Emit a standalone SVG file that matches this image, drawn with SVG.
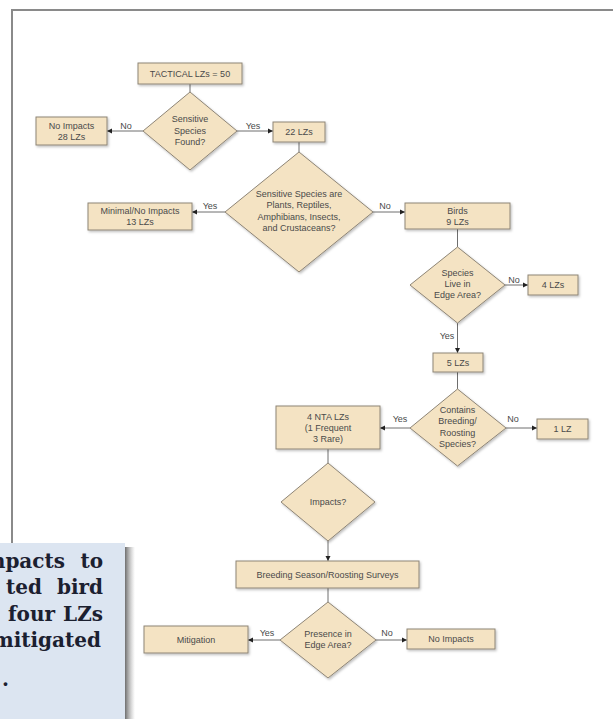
<svg xmlns="http://www.w3.org/2000/svg" width="613" height="719" viewBox="0 0 613 719">
<defs>
<style>
.box{fill:#f4e3c3;stroke:#8e8576;stroke-width:1;filter:url(#sh)}
.dia{fill:#f4e3c3;stroke:#8e8576;stroke-width:1;filter:url(#sh)}
.t{font-family:"Liberation Sans",Arial,sans-serif;font-size:9px;fill:#4a4a4a;text-anchor:middle;dominant-baseline:central}
.lbl{font-family:"Liberation Sans",Arial,sans-serif;font-size:9px;fill:#4a4a4a;text-anchor:middle;dominant-baseline:central}
.c{stroke:#6e6e6e;stroke-width:1;fill:none}
.a{marker-end:url(#ah)}
.call{font-family:"DejaVu Serif","Liberation Serif",serif;font-weight:bold;font-size:20px;fill:#1b2030}
</style>
<marker id="ah" markerWidth="6" markerHeight="6" refX="5" refY="3" orient="auto" markerUnits="userSpaceOnUse">
<path d="M0,0.5 L5,3 L0,5.5 Z" fill="#222"/>
</marker>
<filter id="sh" x="-10%" y="-10%" width="130%" height="140%">
<feDropShadow dx="1.2" dy="1.5" stdDeviation="0.8" flood-color="#000" flood-opacity="0.25"/>
</filter>
<linearGradient id="sg" x1="0" y1="0" x2="1" y2="0">
<stop offset="0" stop-color="#555" stop-opacity="0.85"/>
<stop offset="1" stop-color="#999" stop-opacity="0"/>
</linearGradient>
</defs>
<rect x="0" y="0" width="613" height="719" fill="#fff"/>
<g id="frame">
<path d="M12,545 L12,10 L613,10" fill="none" stroke="#8a8a8a" stroke-width="2"/>
</g>
<g id="connectors">
<line class="c" x1="190" y1="84" x2="190" y2="92"/>
<line class="c a" x1="143" y1="131" x2="107" y2="131"/>
<line class="c a" x1="237" y1="131" x2="273" y2="131"/>
<line class="c" x1="299" y1="142" x2="299" y2="152"/>
<line class="c a" x1="225" y1="212" x2="192" y2="212"/>
<line class="c a" x1="373" y1="212" x2="405" y2="212"/>
<line class="c" x1="457.5" y1="229" x2="457.5" y2="247"/>
<line class="c a" x1="505" y1="285" x2="528" y2="285"/>
<line class="c a" x1="457.5" y1="323" x2="457.5" y2="353"/>
<line class="c" x1="457.5" y1="372" x2="457.5" y2="389"/>
<line class="c a" x1="506" y1="428" x2="537" y2="428"/>
<line class="c a" x1="410" y1="428" x2="380" y2="428"/>
<line class="c" x1="328" y1="449" x2="328" y2="463"/>
<line class="c a" x1="328" y1="541" x2="328" y2="561"/>
<line class="c" x1="328" y1="588" x2="328" y2="602"/>
<line class="c a" x1="376" y1="640" x2="407" y2="640"/>
<line class="c a" x1="280" y1="640" x2="248" y2="640"/>
<text class="lbl" x="126" y="126">No</text>
<text class="lbl" x="253" y="126">Yes</text>
<text class="lbl" x="210" y="206">Yes</text>
<text class="lbl" x="385" y="206">No</text>
<text class="lbl" x="514" y="280">No</text>
<text class="lbl" x="447" y="336">Yes</text>
<text class="lbl" x="513" y="419">No</text>
<text class="lbl" x="400" y="419">Yes</text>
<text class="lbl" x="267" y="633">Yes</text>
<text class="lbl" x="387" y="633">No</text>
</g>
<g id="n-tactical"><rect class="box" x="138" y="63" width="104" height="21"/><text class="t" x="190" y="74">TACTICAL LZs = 50</text></g>
<g id="n-found"><polygon class="dia" points="190,92 237,131 190,170 143,131"/><text class="t" x="190" y="119">Sensitive</text><text class="t" x="190" y="130.5">Species</text><text class="t" x="190" y="142">Found?</text></g>
<g id="n-noimpacts28"><rect class="box" x="36" y="117" width="71" height="28"/><text class="t" x="71.5" y="125.5">No Impacts</text><text class="t" x="71.5" y="136.5">28 LZs</text></g>
<g id="n-22"><rect class="box" x="273" y="122" width="52" height="20"/><text class="t" x="299" y="132">22 LZs</text></g>
<g id="n-plants"><polygon class="dia" points="299,152 373,212 299,272 225,212"/><text class="t" x="299" y="194">Sensitive Species are</text><text class="t" x="299" y="205.3">Plants, Reptiles,</text><text class="t" x="299" y="216.6">Amphibians, Insects,</text><text class="t" x="299" y="228">and Crustaceans?</text></g>
<g id="n-minimal"><rect class="box" x="88" y="203" width="104" height="27"/><text class="t" x="140" y="210.5">Minimal/No Impacts</text><text class="t" x="140" y="221.5">13 LZs</text></g>
<g id="n-birds"><rect class="box" x="405" y="203" width="105" height="26"/><text class="t" x="457.5" y="210.5">Birds</text><text class="t" x="457.5" y="221.5">9 LZs</text></g>
<g id="n-edge"><polygon class="dia" points="457.5,247 505,285 457.5,323 410,285"/><text class="t" x="457.5" y="273">Species</text><text class="t" x="457.5" y="284">Live in</text><text class="t" x="457.5" y="295">Edge Area?</text></g>
<g id="n-4"><rect class="box" x="528" y="275" width="50" height="20"/><text class="t" x="553" y="285">4 LZs</text></g>
<g id="n-5"><rect class="box" x="433" y="353" width="50" height="19"/><text class="t" x="458" y="362.5">5 LZs</text></g>
<g id="n-breeding"><polygon class="dia" points="457.5,389 506,428 457.5,466 410,428"/><text class="t" x="457.5" y="410">Contains</text><text class="t" x="457.5" y="421.3">Breeding/</text><text class="t" x="457.5" y="432.6">Roosting</text><text class="t" x="457.5" y="444">Species?</text></g>
<g id="n-1"><rect class="box" x="537" y="419" width="51" height="20"/><text class="t" x="562.5" y="429">1 LZ</text></g>
<g id="n-nta"><rect class="box" x="276" y="406" width="104" height="43"/><text class="t" x="328" y="416.5">4 NTA LZs</text><text class="t" x="328" y="427.5">(1 Frequent</text><text class="t" x="328" y="438.5">3 Rare)</text></g>
<g id="n-impacts"><polygon class="dia" points="328,463 375,502 328,541 281,502"/><text class="t" x="328" y="502">Impacts?</text></g>
<g id="n-surveys"><rect class="box" x="236" y="561" width="183" height="27"/><text class="t" x="327.5" y="574.5">Breeding Season/Roosting Surveys</text></g>
<g id="n-presence"><polygon class="dia" points="328,602 376,640 328,678 280,640"/><text class="t" x="328" y="633.5">Presence in</text><text class="t" x="328" y="645">Edge Area?</text></g>
<g id="n-mitigation"><rect class="box" x="144" y="626" width="104" height="27"/><text class="t" x="196" y="639.5">Mitigation</text></g>
<g id="n-noimpacts"><rect class="box" x="407" y="629" width="88" height="20"/><text class="t" x="451" y="639">No Impacts</text></g>
<g id="callout">
<rect x="125" y="547" width="10" height="172" fill="url(#sg)"/>
<rect x="-5" y="543" width="130" height="181" fill="#dce5f1"/>
<text class="call"><tspan x="65" y="568" text-anchor="end">mpacts</tspan><tspan x="103" y="568" text-anchor="end">to</tspan></text>
<text class="call"><tspan x="42" y="594" text-anchor="end">ted</tspan><tspan x="103" y="594" text-anchor="end">bird</tspan></text>
<text class="call"><tspan x="55" y="621" text-anchor="end">four</tspan><tspan x="103" y="621" text-anchor="end">LZs</tspan></text>
<text class="call"><tspan x="101" y="647" text-anchor="end">mitigated</tspan></text>
<text class="call" x="2" y="686">.</text>
</g>
</svg>
